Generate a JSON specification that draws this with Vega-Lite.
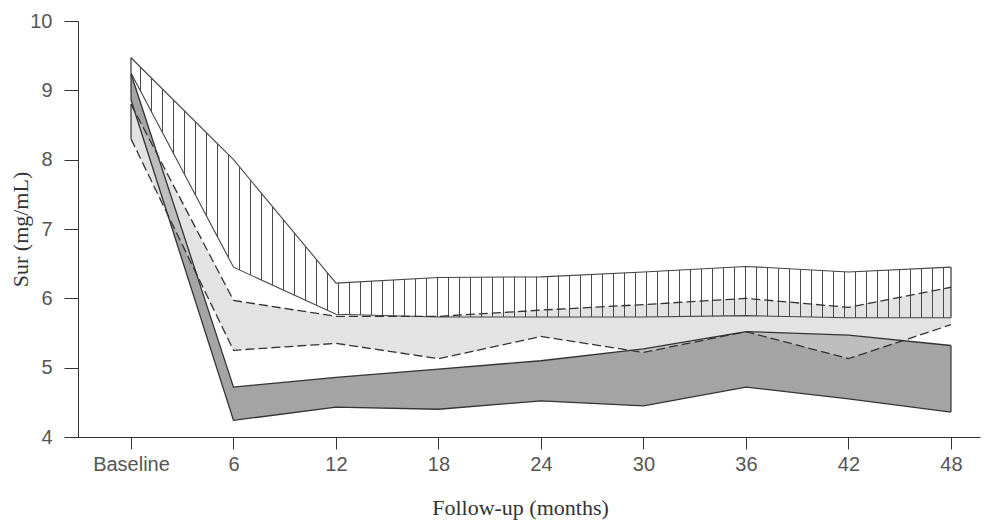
{
  "$schema": "https://vega.github.io/schema/vega-lite/v6.json",
  "autosize": {"type": "none"},
  "width": 902,
  "height": 416,
  "padding": {"left": 78, "top": 21, "right": 14, "bottom": 92},
  "background": "white",
  "config": {"view": {"stroke": null}},
  "data": {"values": [
    {"month": 0, "group": "A", "low": 9.25, "high": 9.47},
    {"month": 6, "group": "A", "low": 6.45, "high": 8.0},
    {"month": 12, "group": "A", "low": 5.77, "high": 6.22},
    {"month": 18, "group": "A", "low": 5.73, "high": 6.3},
    {"month": 24, "group": "A", "low": 5.73, "high": 6.31},
    {"month": 30, "group": "A", "low": 5.73, "high": 6.38},
    {"month": 36, "group": "A", "low": 5.75, "high": 6.46},
    {"month": 42, "group": "A", "low": 5.72, "high": 6.38},
    {"month": 48, "group": "A", "low": 5.72, "high": 6.45},
    {"month": 0, "group": "B", "low": 8.3, "high": 8.8},
    {"month": 6, "group": "B", "low": 5.25, "high": 5.97},
    {"month": 12, "group": "B", "low": 5.35, "high": 5.74},
    {"month": 18, "group": "B", "low": 5.13, "high": 5.74},
    {"month": 24, "group": "B", "low": 5.45, "high": 5.83},
    {"month": 30, "group": "B", "low": 5.22, "high": 5.91},
    {"month": 36, "group": "B", "low": 5.52, "high": 6.0},
    {"month": 42, "group": "B", "low": 5.13, "high": 5.87},
    {"month": 48, "group": "B", "low": 5.62, "high": 6.16},
    {"month": 0, "group": "C", "low": 8.86, "high": 9.24},
    {"month": 6, "group": "C", "low": 4.24, "high": 4.72},
    {"month": 12, "group": "C", "low": 4.43, "high": 4.86},
    {"month": 18, "group": "C", "low": 4.4, "high": 4.98},
    {"month": 24, "group": "C", "low": 4.52, "high": 5.1},
    {"month": 30, "group": "C", "low": 4.45, "high": 5.27},
    {"month": 36, "group": "C", "low": 4.72, "high": 5.52},
    {"month": 42, "group": "C", "low": 4.55, "high": 5.47},
    {"month": 48, "group": "C", "low": 4.36, "high": 5.32}
  ]},
  "encoding": {
    "x": {
      "field": "month", "type": "quantitative",
      "scale": {"domain": [-3.1024, 49.6976], "nice": false, "zero": false},
      "axis": {
        "values": [0, 6, 12, 18, 24, 30, 36, 42, 48],
        "labelExpr": "datum.value == 0 ? 'Baseline' : datum.label",
        "title": "Follow-up (months)",
        "titleFont": "Liberation Serif", "titleFontSize": 22, "titleFontWeight": "normal", "titleColor": "#333",
        "titleX": 442, "titleY": 70, "titleBaseline": "middle", "titleAnchor": "middle", "titleAlign": "center",
        "labelFont": "Liberation Sans", "labelFontSize": 20, "labelColor": "#555", "labelPadding": 5,
        "tickSize": 12, "tickColor": "#333", "domainColor": "#333", "grid": false, "labelFlush": false
      }
    }
  },
  "layer": [
    {
      "transform": [{"filter": "datum.group == 'C'"}],
      "mark": {"type": "area", "fill": "#a4a4a4"},
      "encoding": {
        "y": {"field": "low", "type": "quantitative",
          "scale": {"domain": [4, 10], "nice": false, "zero": false},
          "axis": {
            "values": [4, 5, 6, 7, 8, 9, 10],
            "format": "d",
            "title": "Sur (mg/mL)",
            "titleFont": "Liberation Serif", "titleFontSize": 22, "titleFontWeight": "normal", "titleColor": "#333",
            "titleX": -58, "titleY": 208, "titleAngle": -90, "titleBaseline": "middle", "titleAnchor": "middle", "titleAlign": "center",
            "labelFont": "Liberation Sans", "labelFontSize": 20, "labelColor": "#555", "labelPadding": 12,
            "tickSize": 14, "tickColor": "#333", "domainColor": "#333", "grid": false
          }},
        "y2": {"field": "high"}
      }
    },
    {
      "transform": [{"filter": "datum.group == 'B'"}],
      "mark": {"type": "area", "fill": "#d0d0d0", "fillOpacity": 0.6},
      "encoding": {"y": {"field": "low", "type": "quantitative"}, "y2": {"field": "high"}}
    },
    {
      "transform": [{"filter": "datum.group == 'A'"}],
      "mark": {"type": "area", "fill": {"gradient": "linear", "x1": 0, "y1": 0, "x2": 1, "y2": 0, "stops": [
        {"offset": 0.010976, "color": "rgba(0,0,0,0)"}, {"offset": 0.010976, "color": "#4a4a4a"}, {"offset": 0.012195, "color": "#4a4a4a"}, {"offset": 0.012195, "color": "rgba(0,0,0,0)"},
        {"offset": 0.024390, "color": "rgba(0,0,0,0)"}, {"offset": 0.024390, "color": "#4a4a4a"}, {"offset": 0.025610, "color": "#4a4a4a"}, {"offset": 0.025610, "color": "rgba(0,0,0,0)"},
        {"offset": 0.037805, "color": "rgba(0,0,0,0)"}, {"offset": 0.037805, "color": "#4a4a4a"}, {"offset": 0.039024, "color": "#4a4a4a"}, {"offset": 0.039024, "color": "rgba(0,0,0,0)"},
        {"offset": 0.051220, "color": "rgba(0,0,0,0)"}, {"offset": 0.051220, "color": "#4a4a4a"}, {"offset": 0.052439, "color": "#4a4a4a"}, {"offset": 0.052439, "color": "rgba(0,0,0,0)"},
        {"offset": 0.064634, "color": "rgba(0,0,0,0)"}, {"offset": 0.064634, "color": "#4a4a4a"}, {"offset": 0.065854, "color": "#4a4a4a"}, {"offset": 0.065854, "color": "rgba(0,0,0,0)"},
        {"offset": 0.078049, "color": "rgba(0,0,0,0)"}, {"offset": 0.078049, "color": "#4a4a4a"}, {"offset": 0.079268, "color": "#4a4a4a"}, {"offset": 0.079268, "color": "rgba(0,0,0,0)"},
        {"offset": 0.091463, "color": "rgba(0,0,0,0)"}, {"offset": 0.091463, "color": "#4a4a4a"}, {"offset": 0.092683, "color": "#4a4a4a"}, {"offset": 0.092683, "color": "rgba(0,0,0,0)"},
        {"offset": 0.104878, "color": "rgba(0,0,0,0)"}, {"offset": 0.104878, "color": "#4a4a4a"}, {"offset": 0.106098, "color": "#4a4a4a"}, {"offset": 0.106098, "color": "rgba(0,0,0,0)"},
        {"offset": 0.118293, "color": "rgba(0,0,0,0)"}, {"offset": 0.118293, "color": "#4a4a4a"}, {"offset": 0.119512, "color": "#4a4a4a"}, {"offset": 0.119512, "color": "rgba(0,0,0,0)"},
        {"offset": 0.131707, "color": "rgba(0,0,0,0)"}, {"offset": 0.131707, "color": "#4a4a4a"}, {"offset": 0.132927, "color": "#4a4a4a"}, {"offset": 0.132927, "color": "rgba(0,0,0,0)"},
        {"offset": 0.145122, "color": "rgba(0,0,0,0)"}, {"offset": 0.145122, "color": "#4a4a4a"}, {"offset": 0.146341, "color": "#4a4a4a"}, {"offset": 0.146341, "color": "rgba(0,0,0,0)"},
        {"offset": 0.158537, "color": "rgba(0,0,0,0)"}, {"offset": 0.158537, "color": "#4a4a4a"}, {"offset": 0.159756, "color": "#4a4a4a"}, {"offset": 0.159756, "color": "rgba(0,0,0,0)"},
        {"offset": 0.171951, "color": "rgba(0,0,0,0)"}, {"offset": 0.171951, "color": "#4a4a4a"}, {"offset": 0.173171, "color": "#4a4a4a"}, {"offset": 0.173171, "color": "rgba(0,0,0,0)"},
        {"offset": 0.185366, "color": "rgba(0,0,0,0)"}, {"offset": 0.185366, "color": "#4a4a4a"}, {"offset": 0.186585, "color": "#4a4a4a"}, {"offset": 0.186585, "color": "rgba(0,0,0,0)"},
        {"offset": 0.198780, "color": "rgba(0,0,0,0)"}, {"offset": 0.198780, "color": "#4a4a4a"}, {"offset": 0.200000, "color": "#4a4a4a"}, {"offset": 0.200000, "color": "rgba(0,0,0,0)"},
        {"offset": 0.212195, "color": "rgba(0,0,0,0)"}, {"offset": 0.212195, "color": "#4a4a4a"}, {"offset": 0.213415, "color": "#4a4a4a"}, {"offset": 0.213415, "color": "rgba(0,0,0,0)"},
        {"offset": 0.225610, "color": "rgba(0,0,0,0)"}, {"offset": 0.225610, "color": "#4a4a4a"}, {"offset": 0.226829, "color": "#4a4a4a"}, {"offset": 0.226829, "color": "rgba(0,0,0,0)"},
        {"offset": 0.239024, "color": "rgba(0,0,0,0)"}, {"offset": 0.239024, "color": "#4a4a4a"}, {"offset": 0.240244, "color": "#4a4a4a"}, {"offset": 0.240244, "color": "rgba(0,0,0,0)"},
        {"offset": 0.252439, "color": "rgba(0,0,0,0)"}, {"offset": 0.252439, "color": "#4a4a4a"}, {"offset": 0.253659, "color": "#4a4a4a"}, {"offset": 0.253659, "color": "rgba(0,0,0,0)"},
        {"offset": 0.265854, "color": "rgba(0,0,0,0)"}, {"offset": 0.265854, "color": "#4a4a4a"}, {"offset": 0.267073, "color": "#4a4a4a"}, {"offset": 0.267073, "color": "rgba(0,0,0,0)"},
        {"offset": 0.279268, "color": "rgba(0,0,0,0)"}, {"offset": 0.279268, "color": "#4a4a4a"}, {"offset": 0.280488, "color": "#4a4a4a"}, {"offset": 0.280488, "color": "rgba(0,0,0,0)"},
        {"offset": 0.292683, "color": "rgba(0,0,0,0)"}, {"offset": 0.292683, "color": "#4a4a4a"}, {"offset": 0.293902, "color": "#4a4a4a"}, {"offset": 0.293902, "color": "rgba(0,0,0,0)"},
        {"offset": 0.306098, "color": "rgba(0,0,0,0)"}, {"offset": 0.306098, "color": "#4a4a4a"}, {"offset": 0.307317, "color": "#4a4a4a"}, {"offset": 0.307317, "color": "rgba(0,0,0,0)"},
        {"offset": 0.319512, "color": "rgba(0,0,0,0)"}, {"offset": 0.319512, "color": "#4a4a4a"}, {"offset": 0.320732, "color": "#4a4a4a"}, {"offset": 0.320732, "color": "rgba(0,0,0,0)"},
        {"offset": 0.332927, "color": "rgba(0,0,0,0)"}, {"offset": 0.332927, "color": "#4a4a4a"}, {"offset": 0.334146, "color": "#4a4a4a"}, {"offset": 0.334146, "color": "rgba(0,0,0,0)"},
        {"offset": 0.346341, "color": "rgba(0,0,0,0)"}, {"offset": 0.346341, "color": "#4a4a4a"}, {"offset": 0.347561, "color": "#4a4a4a"}, {"offset": 0.347561, "color": "rgba(0,0,0,0)"},
        {"offset": 0.359756, "color": "rgba(0,0,0,0)"}, {"offset": 0.359756, "color": "#4a4a4a"}, {"offset": 0.360976, "color": "#4a4a4a"}, {"offset": 0.360976, "color": "rgba(0,0,0,0)"},
        {"offset": 0.373171, "color": "rgba(0,0,0,0)"}, {"offset": 0.373171, "color": "#4a4a4a"}, {"offset": 0.374390, "color": "#4a4a4a"}, {"offset": 0.374390, "color": "rgba(0,0,0,0)"},
        {"offset": 0.386585, "color": "rgba(0,0,0,0)"}, {"offset": 0.386585, "color": "#4a4a4a"}, {"offset": 0.387805, "color": "#4a4a4a"}, {"offset": 0.387805, "color": "rgba(0,0,0,0)"},
        {"offset": 0.400000, "color": "rgba(0,0,0,0)"}, {"offset": 0.400000, "color": "#4a4a4a"}, {"offset": 0.401220, "color": "#4a4a4a"}, {"offset": 0.401220, "color": "rgba(0,0,0,0)"},
        {"offset": 0.413415, "color": "rgba(0,0,0,0)"}, {"offset": 0.413415, "color": "#4a4a4a"}, {"offset": 0.414634, "color": "#4a4a4a"}, {"offset": 0.414634, "color": "rgba(0,0,0,0)"},
        {"offset": 0.426829, "color": "rgba(0,0,0,0)"}, {"offset": 0.426829, "color": "#4a4a4a"}, {"offset": 0.428049, "color": "#4a4a4a"}, {"offset": 0.428049, "color": "rgba(0,0,0,0)"},
        {"offset": 0.440244, "color": "rgba(0,0,0,0)"}, {"offset": 0.440244, "color": "#4a4a4a"}, {"offset": 0.441463, "color": "#4a4a4a"}, {"offset": 0.441463, "color": "rgba(0,0,0,0)"},
        {"offset": 0.453659, "color": "rgba(0,0,0,0)"}, {"offset": 0.453659, "color": "#4a4a4a"}, {"offset": 0.454878, "color": "#4a4a4a"}, {"offset": 0.454878, "color": "rgba(0,0,0,0)"},
        {"offset": 0.467073, "color": "rgba(0,0,0,0)"}, {"offset": 0.467073, "color": "#4a4a4a"}, {"offset": 0.468293, "color": "#4a4a4a"}, {"offset": 0.468293, "color": "rgba(0,0,0,0)"},
        {"offset": 0.480488, "color": "rgba(0,0,0,0)"}, {"offset": 0.480488, "color": "#4a4a4a"}, {"offset": 0.481707, "color": "#4a4a4a"}, {"offset": 0.481707, "color": "rgba(0,0,0,0)"},
        {"offset": 0.493902, "color": "rgba(0,0,0,0)"}, {"offset": 0.493902, "color": "#4a4a4a"}, {"offset": 0.495122, "color": "#4a4a4a"}, {"offset": 0.495122, "color": "rgba(0,0,0,0)"},
        {"offset": 0.507317, "color": "rgba(0,0,0,0)"}, {"offset": 0.507317, "color": "#4a4a4a"}, {"offset": 0.508537, "color": "#4a4a4a"}, {"offset": 0.508537, "color": "rgba(0,0,0,0)"},
        {"offset": 0.520732, "color": "rgba(0,0,0,0)"}, {"offset": 0.520732, "color": "#4a4a4a"}, {"offset": 0.521951, "color": "#4a4a4a"}, {"offset": 0.521951, "color": "rgba(0,0,0,0)"},
        {"offset": 0.534146, "color": "rgba(0,0,0,0)"}, {"offset": 0.534146, "color": "#4a4a4a"}, {"offset": 0.535366, "color": "#4a4a4a"}, {"offset": 0.535366, "color": "rgba(0,0,0,0)"},
        {"offset": 0.547561, "color": "rgba(0,0,0,0)"}, {"offset": 0.547561, "color": "#4a4a4a"}, {"offset": 0.548780, "color": "#4a4a4a"}, {"offset": 0.548780, "color": "rgba(0,0,0,0)"},
        {"offset": 0.560976, "color": "rgba(0,0,0,0)"}, {"offset": 0.560976, "color": "#4a4a4a"}, {"offset": 0.562195, "color": "#4a4a4a"}, {"offset": 0.562195, "color": "rgba(0,0,0,0)"},
        {"offset": 0.574390, "color": "rgba(0,0,0,0)"}, {"offset": 0.574390, "color": "#4a4a4a"}, {"offset": 0.575610, "color": "#4a4a4a"}, {"offset": 0.575610, "color": "rgba(0,0,0,0)"},
        {"offset": 0.587805, "color": "rgba(0,0,0,0)"}, {"offset": 0.587805, "color": "#4a4a4a"}, {"offset": 0.589024, "color": "#4a4a4a"}, {"offset": 0.589024, "color": "rgba(0,0,0,0)"},
        {"offset": 0.601220, "color": "rgba(0,0,0,0)"}, {"offset": 0.601220, "color": "#4a4a4a"}, {"offset": 0.602439, "color": "#4a4a4a"}, {"offset": 0.602439, "color": "rgba(0,0,0,0)"},
        {"offset": 0.614634, "color": "rgba(0,0,0,0)"}, {"offset": 0.614634, "color": "#4a4a4a"}, {"offset": 0.615854, "color": "#4a4a4a"}, {"offset": 0.615854, "color": "rgba(0,0,0,0)"},
        {"offset": 0.628049, "color": "rgba(0,0,0,0)"}, {"offset": 0.628049, "color": "#4a4a4a"}, {"offset": 0.629268, "color": "#4a4a4a"}, {"offset": 0.629268, "color": "rgba(0,0,0,0)"},
        {"offset": 0.641463, "color": "rgba(0,0,0,0)"}, {"offset": 0.641463, "color": "#4a4a4a"}, {"offset": 0.642683, "color": "#4a4a4a"}, {"offset": 0.642683, "color": "rgba(0,0,0,0)"},
        {"offset": 0.654878, "color": "rgba(0,0,0,0)"}, {"offset": 0.654878, "color": "#4a4a4a"}, {"offset": 0.656098, "color": "#4a4a4a"}, {"offset": 0.656098, "color": "rgba(0,0,0,0)"},
        {"offset": 0.668293, "color": "rgba(0,0,0,0)"}, {"offset": 0.668293, "color": "#4a4a4a"}, {"offset": 0.669512, "color": "#4a4a4a"}, {"offset": 0.669512, "color": "rgba(0,0,0,0)"},
        {"offset": 0.681707, "color": "rgba(0,0,0,0)"}, {"offset": 0.681707, "color": "#4a4a4a"}, {"offset": 0.682927, "color": "#4a4a4a"}, {"offset": 0.682927, "color": "rgba(0,0,0,0)"},
        {"offset": 0.695122, "color": "rgba(0,0,0,0)"}, {"offset": 0.695122, "color": "#4a4a4a"}, {"offset": 0.696341, "color": "#4a4a4a"}, {"offset": 0.696341, "color": "rgba(0,0,0,0)"},
        {"offset": 0.708537, "color": "rgba(0,0,0,0)"}, {"offset": 0.708537, "color": "#4a4a4a"}, {"offset": 0.709756, "color": "#4a4a4a"}, {"offset": 0.709756, "color": "rgba(0,0,0,0)"},
        {"offset": 0.721951, "color": "rgba(0,0,0,0)"}, {"offset": 0.721951, "color": "#4a4a4a"}, {"offset": 0.723171, "color": "#4a4a4a"}, {"offset": 0.723171, "color": "rgba(0,0,0,0)"},
        {"offset": 0.735366, "color": "rgba(0,0,0,0)"}, {"offset": 0.735366, "color": "#4a4a4a"}, {"offset": 0.736585, "color": "#4a4a4a"}, {"offset": 0.736585, "color": "rgba(0,0,0,0)"},
        {"offset": 0.748780, "color": "rgba(0,0,0,0)"}, {"offset": 0.748780, "color": "#4a4a4a"}, {"offset": 0.750000, "color": "#4a4a4a"}, {"offset": 0.750000, "color": "rgba(0,0,0,0)"},
        {"offset": 0.762195, "color": "rgba(0,0,0,0)"}, {"offset": 0.762195, "color": "#4a4a4a"}, {"offset": 0.763415, "color": "#4a4a4a"}, {"offset": 0.763415, "color": "rgba(0,0,0,0)"},
        {"offset": 0.775610, "color": "rgba(0,0,0,0)"}, {"offset": 0.775610, "color": "#4a4a4a"}, {"offset": 0.776829, "color": "#4a4a4a"}, {"offset": 0.776829, "color": "rgba(0,0,0,0)"},
        {"offset": 0.789024, "color": "rgba(0,0,0,0)"}, {"offset": 0.789024, "color": "#4a4a4a"}, {"offset": 0.790244, "color": "#4a4a4a"}, {"offset": 0.790244, "color": "rgba(0,0,0,0)"},
        {"offset": 0.802439, "color": "rgba(0,0,0,0)"}, {"offset": 0.802439, "color": "#4a4a4a"}, {"offset": 0.803659, "color": "#4a4a4a"}, {"offset": 0.803659, "color": "rgba(0,0,0,0)"},
        {"offset": 0.815854, "color": "rgba(0,0,0,0)"}, {"offset": 0.815854, "color": "#4a4a4a"}, {"offset": 0.817073, "color": "#4a4a4a"}, {"offset": 0.817073, "color": "rgba(0,0,0,0)"},
        {"offset": 0.829268, "color": "rgba(0,0,0,0)"}, {"offset": 0.829268, "color": "#4a4a4a"}, {"offset": 0.830488, "color": "#4a4a4a"}, {"offset": 0.830488, "color": "rgba(0,0,0,0)"},
        {"offset": 0.842683, "color": "rgba(0,0,0,0)"}, {"offset": 0.842683, "color": "#4a4a4a"}, {"offset": 0.843902, "color": "#4a4a4a"}, {"offset": 0.843902, "color": "rgba(0,0,0,0)"},
        {"offset": 0.856098, "color": "rgba(0,0,0,0)"}, {"offset": 0.856098, "color": "#4a4a4a"}, {"offset": 0.857317, "color": "#4a4a4a"}, {"offset": 0.857317, "color": "rgba(0,0,0,0)"},
        {"offset": 0.869512, "color": "rgba(0,0,0,0)"}, {"offset": 0.869512, "color": "#4a4a4a"}, {"offset": 0.870732, "color": "#4a4a4a"}, {"offset": 0.870732, "color": "rgba(0,0,0,0)"},
        {"offset": 0.882927, "color": "rgba(0,0,0,0)"}, {"offset": 0.882927, "color": "#4a4a4a"}, {"offset": 0.884146, "color": "#4a4a4a"}, {"offset": 0.884146, "color": "rgba(0,0,0,0)"},
        {"offset": 0.896341, "color": "rgba(0,0,0,0)"}, {"offset": 0.896341, "color": "#4a4a4a"}, {"offset": 0.897561, "color": "#4a4a4a"}, {"offset": 0.897561, "color": "rgba(0,0,0,0)"},
        {"offset": 0.909756, "color": "rgba(0,0,0,0)"}, {"offset": 0.909756, "color": "#4a4a4a"}, {"offset": 0.910976, "color": "#4a4a4a"}, {"offset": 0.910976, "color": "rgba(0,0,0,0)"},
        {"offset": 0.923171, "color": "rgba(0,0,0,0)"}, {"offset": 0.923171, "color": "#4a4a4a"}, {"offset": 0.924390, "color": "#4a4a4a"}, {"offset": 0.924390, "color": "rgba(0,0,0,0)"},
        {"offset": 0.936585, "color": "rgba(0,0,0,0)"}, {"offset": 0.936585, "color": "#4a4a4a"}, {"offset": 0.937805, "color": "#4a4a4a"}, {"offset": 0.937805, "color": "rgba(0,0,0,0)"},
        {"offset": 0.950000, "color": "rgba(0,0,0,0)"}, {"offset": 0.950000, "color": "#4a4a4a"}, {"offset": 0.951220, "color": "#4a4a4a"}, {"offset": 0.951220, "color": "rgba(0,0,0,0)"},
        {"offset": 0.963415, "color": "rgba(0,0,0,0)"}, {"offset": 0.963415, "color": "#4a4a4a"}, {"offset": 0.964634, "color": "#4a4a4a"}, {"offset": 0.964634, "color": "rgba(0,0,0,0)"},
        {"offset": 0.976829, "color": "rgba(0,0,0,0)"}, {"offset": 0.976829, "color": "#4a4a4a"}, {"offset": 0.978049, "color": "#4a4a4a"}, {"offset": 0.978049, "color": "rgba(0,0,0,0)"},
        {"offset": 0.990244, "color": "rgba(0,0,0,0)"}, {"offset": 0.990244, "color": "#4a4a4a"}, {"offset": 0.991463, "color": "#4a4a4a"}, {"offset": 0.991463, "color": "rgba(0,0,0,0)"}
      ]}},
      "encoding": {"y": {"field": "low", "type": "quantitative"}, "y2": {"field": "high"}}
    },
    {
      "transform": [{"filter": "datum.group == 'A'"}],
      "mark": {"type": "line", "stroke": "#444", "strokeWidth": 1.1},
      "encoding": {"y": {"field": "high", "type": "quantitative"}}
    },
    {
      "transform": [{"filter": "datum.group == 'A'"}],
      "mark": {"type": "line", "stroke": "#444", "strokeWidth": 1.1},
      "encoding": {"y": {"field": "low", "type": "quantitative"}}
    },
    {
      "transform": [{"filter": "datum.group == 'B'"}],
      "mark": {"type": "line", "stroke": "#333", "strokeWidth": 1.3, "strokeDash": [9, 4]},
      "encoding": {"y": {"field": "high", "type": "quantitative"}}
    },
    {
      "transform": [{"filter": "datum.group == 'B'"}],
      "mark": {"type": "line", "stroke": "#333", "strokeWidth": 1.3, "strokeDash": [9, 4]},
      "encoding": {"y": {"field": "low", "type": "quantitative"}}
    },
    {
      "transform": [{"filter": "datum.group == 'C'"}],
      "mark": {"type": "line", "stroke": "#333", "strokeWidth": 1.3},
      "encoding": {"y": {"field": "high", "type": "quantitative"}}
    },
    {
      "transform": [{"filter": "datum.group == 'C'"}],
      "mark": {"type": "line", "stroke": "#333", "strokeWidth": 1.3},
      "encoding": {"y": {"field": "low", "type": "quantitative"}}
    },
    {
      "transform": [{"filter": "((datum.group == 'A' || datum.group == 'C') && (datum.month == 0 || datum.month == 48)) || (datum.group == 'B' && datum.month == 0)"}],
      "mark": {"type": "rule", "stroke": "#333", "strokeWidth": 1.2},
      "encoding": {"y": {"field": "low", "type": "quantitative"}, "y2": {"field": "high"}}
    }
  ]
}
